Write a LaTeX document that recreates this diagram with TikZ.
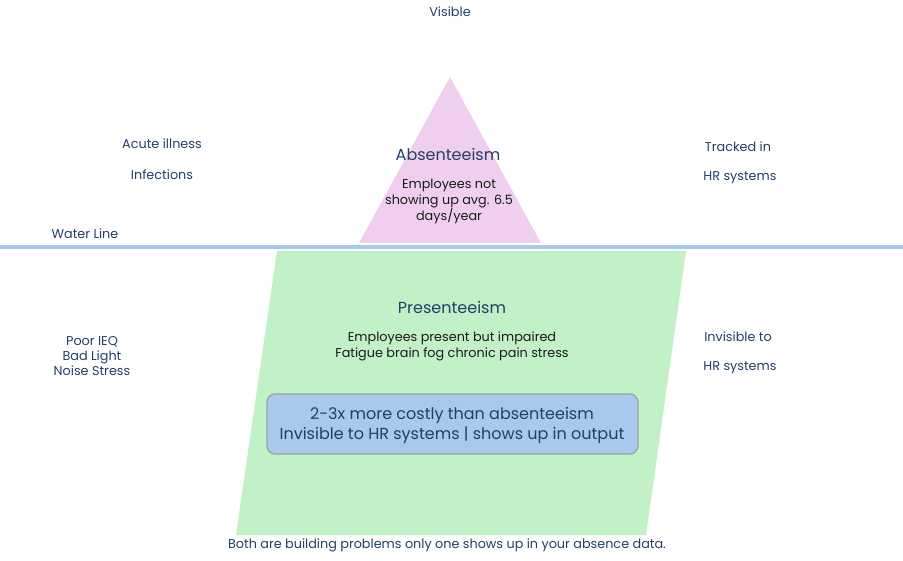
\documentclass[tikz,border=0pt]{standalone}
\usepackage{fontspec}
\setmainfont{Poppins}
\definecolor{navy}{HTML}{233F66}
\definecolor{dark}{HTML}{1A1A1A}
\definecolor{pinkfill}{HTML}{F0CFEE}
\definecolor{greenfill}{HTML}{C2F0C7}
\definecolor{bluefill}{HTML}{A8C8EC}
\definecolor{boxborder}{HTML}{A0A0A0}
\tikzset{
  lbl/.style={text=navy, font=\fontsize{12.8}{15.3}\selectfont, align=center, inner sep=0pt},
  head/.style={text=navy, font=\fontsize{16}{19}\selectfont, inner sep=0pt},
  desc/.style={text=dark, font=\fontsize{12.8}{15.5}\selectfont, align=center, inner sep=0pt},
  costbox/.style={draw=boxborder, line width=1.2pt, fill=bluefill, rounded corners=8pt},
}
\begin{document}
\begin{tikzpicture}[x=1pt,y=-1pt]
\useasboundingbox (0,0) rectangle (903,561);
% triangle (visible part)
\path[fill=pinkfill] (450,77) -- (541,243) -- (359,243) -- cycle;
% parallelogram (hidden part)
\path[fill=greenfill] (277,251) -- (686,251) -- (646,535) -- (236,535) -- cycle;
% water line
\coordinate (wl) at (0,247);
\coordinate (wr) at (903,247);
\draw[bluefill, line width=4pt] (wl) -- (wr);
% cost box
\draw[costbox] (267,394) rectangle (638,454);
\node[text=navy, font=\fontsize{16}{20}\selectfont, align=center, inner sep=0pt] (cost) at (452,425)
  {2-3x more costly than absenteeism\\Invisible to HR systems | shows up in output};
% texts
\node[lbl] (visible) at (450,12) {Visible};
\node[head] (abs) at (448,154) {Absenteeism};
\node[desc] (absd) at (449,201.5) {Employees not\\showing up avg. 6.5\\days/year};
\node[lbl] (acute) at (162,144) {Acute illness};
\node[lbl] (inf) at (162,175) {Infections};
\node[lbl] (water) at (85,233.5) {Water Line};
\node[lbl] (track) at (738,147) {Tracked in};
\node[lbl] (hr1) at (740,177.5) {HR systems};
\node[head] (pres) at (452,307.5) {Presenteeism};
\node[desc] (presd) at (452,346.5) {Employees present but impaired\\Fatigue brain fog chronic pain stress};
\node[lbl] (ieq) at (92,356) {Poor IEQ\\Bad Light\\Noise Stress};
\node[lbl] (invis) at (738,337) {Invisible to};
\node[lbl] (hr2) at (740,367.5) {HR systems};
\node[lbl] (both) at (447,545.5) {Both are building problems only one shows up in your absence data.};
\end{tikzpicture}
\end{document}
